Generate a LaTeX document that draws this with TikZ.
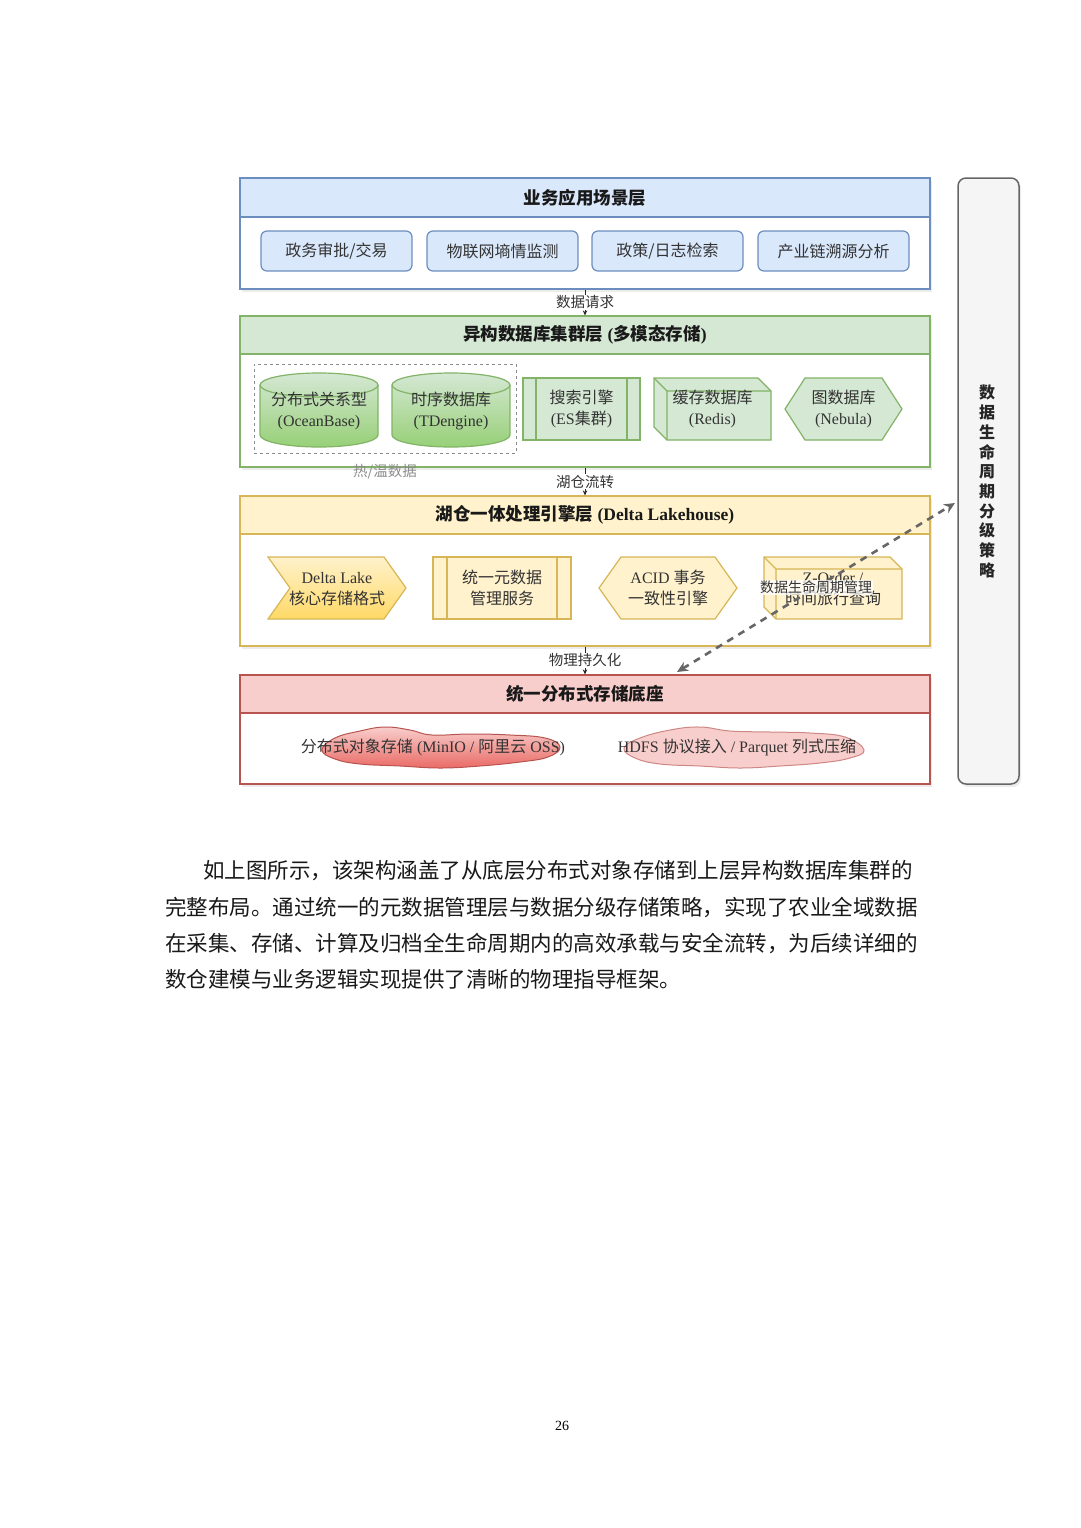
\documentclass[tikz,border=0pt]{standalone}
\usepackage{fontspec}
\setmainfont{Liberation Serif}
\newfontfamily\cjk{Noto Sans CJK SC}
\usetikzlibrary{arrows.meta,shadows}
\definecolor{blueF}{HTML}{DAE8FC}\definecolor{blueS}{HTML}{6C8EBF}
\definecolor{greenF}{HTML}{D5E8D4}\definecolor{greenS}{HTML}{82B366}\definecolor{greenD}{HTML}{97D077}
\definecolor{yelF}{HTML}{FFF2CC}\definecolor{yelS}{HTML}{D6B656}\definecolor{yelD}{HTML}{FFD966}
\definecolor{redF}{HTML}{F8CECC}\definecolor{redS}{HTML}{B85450}\definecolor{redD}{HTML}{EA6B66}
\definecolor{barF}{HTML}{F5F5F5}\definecolor{barS}{HTML}{666666}
\definecolor{txt}{HTML}{333333}
\tikzset{
  shadowed/.style={drop shadow={opacity=0.15,shadow xshift=2pt,shadow yshift=-3pt}},
  layerbox/.style={draw=#1, line width=1.2pt, fill=white, minimum width=690pt, inner sep=0pt, shadowed},
  headbox/.style={line width=1.2pt, minimum width=690pt, minimum height=38pt, inner sep=0pt,
     font=\fontsize{17.5}{20}\selectfont\bfseries, text=black!90},
  appbox/.style={rounded corners=6pt, draw=blueS, fill=blueF, line width=1.2pt,
     minimum width=151pt, minimum height=40pt, font=\fontsize{16}{20}\selectfont\cjk, text=txt},
  inner/.style={font=\fontsize{16}{21}\selectfont, text=txt, align=center, inner sep=0pt},
  gline/.style={draw=greenS, line width=1.2pt},
  yline/.style={draw=yelS, line width=1.2pt},
  flow/.style={draw=black!85, line width=1pt, -{Stealth[length=5pt,width=4.5pt]}},
  elabel/.style={fill=white, font=\fontsize{14.5}{16}\selectfont\cjk, text=txt, inner sep=1pt},
  lifecycle/.style={draw=barS, line width=2.6pt, dash pattern=on 7pt off 6pt,
     {Stealth[length=11pt,width=10pt]}-{Stealth[length=11pt,width=10pt]}},
  para/.style={anchor=west, inner sep=0pt, font=\fontsize{21.5}{24}\selectfont\cjk, text=black!90},
}
\begin{document}
\begin{tikzpicture}[x=1pt,y=-1pt]
\path[use as bounding box, fill=white] (0,0) rectangle (1080,1528);

% ---------------- Layer 1
\node[layerbox=blueS, minimum height=111pt] (L1) at (585,233.5) {};
\node[headbox, draw=blueS, fill=blueF, minimum height=39pt] (L1h) at (585,197.5) {\cjk 业务应用场景层};
\node[appbox] (a1) at (336.5,251) {政务审批/交易};
\node[appbox] (a2) at (502.5,251) {物联网墒情监测};
\node[appbox] (a3) at (667.5,251) {政策/日志检索};
\node[appbox] (a4) at (833.5,251) {产业链溯源分析};

% ---------------- Layer 2
\node[layerbox=greenS, minimum height=151pt] (L2) at (585,391.5) {};
\node[headbox, draw=greenS, fill=greenF] (L2h) at (585,335) {{\cjk 异构数据库集群层} ({\cjk 多模态存储})};
\draw[flow] (L1.south) -- (L2.north) node[midway, elabel] (e1) {数据请求};

\node[draw=black!45, dashed, line width=1pt, minimum width=262pt, minimum height=89pt] (hot) at (385,408.5) {};
\node[inner, text=black!45, font=\fontsize{14.5}{16}\selectfont\cjk] (hotl) at (385,472) {热/温数据};

\path[draw=greenS, line width=1.2pt, top color=greenF, bottom color=greenD]
  (260,385) -- (260,435) arc[start angle=180,end angle=360,x radius=59pt,y radius=12pt]
  -- (378,385) arc[start angle=0,end angle=180,x radius=59pt,y radius=12pt] -- cycle;
\draw[gline] (260,385) arc[start angle=180,end angle=360,x radius=59pt,y radius=12pt];
\node[inner] (cyl1) at (319,411) {{\cjk 分布式关系型}\\(OceanBase)};

\path[draw=greenS, line width=1.2pt, top color=greenF, bottom color=greenD]
  (392,385) -- (392,435) arc[start angle=180,end angle=360,x radius=59pt,y radius=12pt]
  -- (510,385) arc[start angle=0,end angle=180,x radius=59pt,y radius=12pt] -- cycle;
\draw[gline] (392,385) arc[start angle=180,end angle=360,x radius=59pt,y radius=12pt];
\node[inner] (cyl2) at (451,411) {{\cjk 时序数据库}\\(TDengine)};

\node[gline, fill=greenF, minimum width=117pt, minimum height=62pt, inner sep=0pt, outer sep=0pt] (es) at (581.5,409) {};
\draw[gline] ([xshift=13pt]es.north west) -- ([xshift=13pt]es.south west);
\draw[gline] ([xshift=-13pt]es.north east) -- ([xshift=-13pt]es.south east);
\node[inner] (est) at (581.5,409) {{\cjk 搜索引擎}\\(ES{\cjk 集群})};

\path[gline, fill=greenF] (654,378) -- (758,378) -- (771,391) -- (771,440) -- (667,440) -- (654,427) -- cycle;
\draw[gline] (654,378) -- (667,391) -- (771,391) (667,391) -- (667,440);
\node[inner] (redis) at (712.5,409) {{\cjk 缓存数据库}\\(Redis)};

\path[gline, fill=greenF] (785,409) -- (805,378) -- (882,378) -- (902,409) -- (882,440) -- (805,440) -- cycle;
\node[inner] (nebula) at (843.5,409) {{\cjk 图数据库}\\(Nebula)};

% ---------------- Layer 3
\node[layerbox=yelS, minimum height=150pt] (L3) at (585,571) {};
\node[headbox, draw=yelS, fill=yelF] (L3h) at (585,515) {{\cjk 湖仓一体处理引擎层} (Delta Lakehouse)};
\draw[flow] (L2.south) -- (L3.north) node[midway, elabel] (e2) {湖仓流转};

\path[yline, top color=yelF, bottom color=yelD] (268,557) -- (384,557) -- (406,588) -- (384,619) -- (268,619) -- (290,588) -- cycle;
\node[inner] (delta) at (337,589) {Delta Lake\\{\cjk 核心存储格式}};

\node[yline, fill=yelF, minimum width=138pt, minimum height=62pt, inner sep=0pt, outer sep=0pt] (meta) at (502,588) {};
\draw[yline] ([xshift=14pt]meta.north west) -- ([xshift=14pt]meta.south west);
\draw[yline] ([xshift=-14pt]meta.north east) -- ([xshift=-14pt]meta.south east);
\node[inner] (metat) at (502,588) {\cjk 统一元数据\\\cjk 管理服务};

\path[yline, fill=yelF] (599,588) -- (621,557) -- (715,557) -- (737,588) -- (715,619) -- (621,619) -- cycle;
\node[inner] (acid) at (668,588) {ACID {\cjk 事务}\\{\cjk 一致性引擎}};

\path[yline, fill=yelF] (764,557) -- (890,557) -- (902,569) -- (902,619) -- (776,619) -- (764,607) -- cycle;
\draw[yline] (764,557) -- (776,569) -- (902,569) (776,569) -- (776,619);
\node[inner] (zorder) at (833,589) {Z-Order /\\{\cjk 时间旅行查询}};

% ---------------- Layer 4
\node[layerbox=redS, minimum height=109pt] (L4) at (585,729.5) {};
\node[headbox, draw=redS, fill=redF] (L4h) at (585,694) {\cjk 统一分布式存储底座};
\draw[flow] (L3.south) -- (L4.north) node[midway, elabel] (e3) {物理持久化};

\path[draw=redS, line width=1pt, top color=redF, bottom color=redD]
  plot[smooth cycle, tension=0.7] coordinates {(322,750) (335,738) (360,731) (385,727) (410,730) (432,735)
   (470,734) (510,735) (545,738) (560,747) (548,757) (520,762) (480,766) (440,768) (400,766) (360,764) (335,759)};
\node[inner] (c1t) at (433,747) {{\cjk 分布式对象存储} (MinIO / {\cjk 阿里云} OSS)};

\path[draw=redS!70, line width=1pt, fill=redF]
  plot[smooth cycle, tension=0.7] coordinates {(624,748) (640,738) (670,730) (700,727) (730,731) (770,732)
   (810,733) (845,737) (864,750) (850,758) (820,763) (780,766) (740,768) (700,766) (660,764) (635,758)};
\node[inner] (c2t) at (737,747) {HDFS {\cjk 协议接入} / Parquet {\cjk 列式压缩}};

% ---------------- lifecycle bar
\node[draw=barS, fill=barF, rounded corners=8pt, line width=1.5pt, minimum width=61pt,
      minimum height=606pt, shadowed] (bar) at (988.5,481) {};
\node[inner, align=center, font=\fontsize{16}{19.7}\selectfont\cjk\bfseries, text=black!85] (bart) at (987,481.5)
  {数\\据\\生\\命\\周\\期\\分\\级\\策\\略};

\coordinate (lcTop) at (955,503);
\coordinate (lcBot) at (677,672);
\draw[lifecycle] (lcBot) -- (lcTop)
  node[midway, fill=white, fill opacity=0.75, text opacity=1, inner sep=1pt, text=txt,
       font=\fontsize{14}{16}\selectfont\cjk] (lcl) {数据生命周期管理};

% ---------------- paragraph
\node[para] (p1) at (203,871) {如上图所示，该架构涵盖了从底层分布式对象存储到上层异构数据库集群的};
\node[para] (p2) at (165,907) {完整布局。通过统一的元数据管理层与数据分级存储策略，实现了农业全域数据};
\node[para] (p3) at (165,943) {在采集、存储、计算及归档全生命周期内的高效承载与安全流转，为后续详细的};
\node[para] (p4) at (165,979) {数仓建模与业务逻辑实现提供了清晰的物理指导框架。};

\node[font=\fontsize{14}{16}\selectfont, inner sep=0pt] (pg) at (562,1426) {26};
\end{tikzpicture}
\end{document}
